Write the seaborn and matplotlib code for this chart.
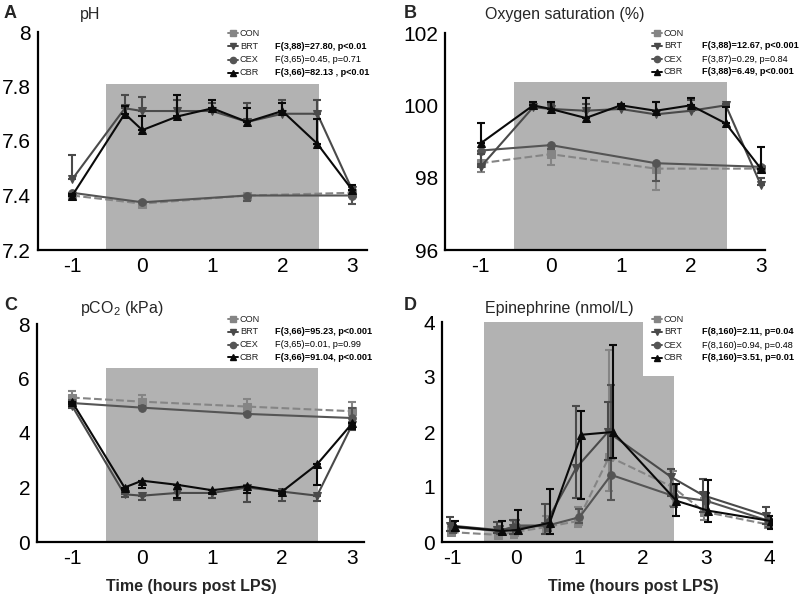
import numpy as np
import pandas as pd
import matplotlib
matplotlib.use("Agg")
import matplotlib.pyplot as plt
from matplotlib.lines import Line2D
import seaborn as sns

sns.set_theme(style="ticks")
plt.rcParams["font.family"] = ["Liberation Sans", "DejaVu Sans"]
plt.rcParams["mathtext.fontset"] = "custom"
plt.rcParams["mathtext.rm"] = "Liberation Sans"

# ---------------------------------------------------------
# Data
# ---------------------------------------------------------
t_long = [-1, -0.25, 0, 0.5, 1, 1.5, 2, 2.5, 3]
t_short = [-1, 0, 1.5, 3]
t_epi = [-1, -0.25, 0, 0.5, 1, 1.5, 2.5, 3, 4]

# pH
ph_con = [7.40, 7.37, 7.40, 7.41]
ph_con_up = [0, 0, 0, 0]
ph_con_dn = [0.005, 0.01, 0.015, 0.01]
ph_cex = [7.41, 7.375, 7.40, 7.40]
ph_cex_up = [0, 0, 0, 0]
ph_cex_dn = [0, 0, 0.02, 0.03]
ph_brt = [7.46, 7.72, 7.71, 7.71, 7.71, 7.67, 7.70, 7.70, 7.42]
ph_brt_up = [0.09, 0.05, 0.05, 0.04, 0.03, 0.07, 0.05, 0.05, 0.01]
ph_brt_dn = [0, 0, 0, 0, 0, 0, 0, 0, 0]
ph_cbr = [7.40, 7.70, 7.64, 7.69, 7.72, 7.67, 7.71, 7.59, 7.42]
ph_cbr_up = [0.005, 0.03, 0.05, 0.08, 0.03, 0.05, 0.03, 0.09, 0.02]
ph_cbr_dn = [0, 0, 0, 0, 0, 0, 0, 0, 0]

# Oxygen saturation
o2_con = [98.4, 98.65, 98.25, 98.25]
o2_con_up = [0, 0, 0, 0]
o2_con_dn = [0.25, 0.3, 0.6, 0.1]
o2_cex = [98.75, 98.9, 98.4, 98.3]
o2_cex_up = [0, 0, 0, 0]
o2_cex_dn = [0.4, 0.1, 0.5, 0.1]
o2_brt = [98.3, 99.95, 99.9, 99.85, 99.9, 99.75, 99.85, 100.0, 97.8]
o2_brt_up = [0.35, 0.1, 0.15, 0.2, 0.15, 0.35, 0.3, 0.05, 0.2]
o2_brt_dn = [0, 0, 0, 0, 0, 0, 0, 0, 0]
o2_cbr = [98.95, 100.0, 99.9, 99.65, 100.0, 99.85, 100.0, 99.5, 98.25]
o2_cbr_up = [0.55, 0.1, 0.2, 0.55, 0.05, 0.25, 0.2, 0.45, 0.6]
o2_cbr_dn = [0, 0, 0, 0, 0, 0, 0, 0, 0]

# pCO2
co2_con = [5.3, 5.15, 4.97, 4.8]
co2_con_up = [0.25, 0.25, 0.28, 0.32]
co2_con_dn = [0, 0, 0, 0]
co2_cex = [5.1, 4.93, 4.7, 4.55]
co2_cex_up = [0.1, 0.05, 0.05, 0.35]
co2_cex_dn = [0, 0, 0, 0]
co2_brt = [5.0, 1.75, 1.7, 1.8, 1.8, 2.0, 1.85, 1.7, 4.3]
co2_brt_up = [0, 0, 0, 0, 0, 0, 0, 0, 0]
co2_brt_dn = [0.1, 0.1, 0.15, 0.25, 0.2, 0.55, 0.35, 0.2, 0.2]
co2_cbr = [5.15, 2.0, 2.25, 2.1, 1.9, 2.05, 1.85, 2.85, 4.35]
co2_cbr_up = [0, 0, 0, 0, 0, 0, 0, 0, 0]
co2_cbr_dn = [0.1, 0.1, 0.25, 0.5, 0.1, 0.25, 0.1, 0.75, 0.2]

# Epinephrine
epi_con = [0.18, 0.13, 0.18, 0.27, 0.38, 1.55, 1.0, 0.55, 0.32]
epi_con_up = [0.1, 0.1, 0.2, 0.2, 0.25, 1.95, 0.3, 0.25, 0.1]
epi_con_dn = [0.05, 0.05, 0.1, 0.1, 0.1, 0.62, 0.35, 0.15, 0.05]
epi_brt = [0.3, 0.22, 0.25, 0.3, 1.35, 2.0, 1.18, 0.85, 0.48]
epi_brt_up = [0.15, 0.15, 0.15, 0.4, 1.12, 0.55, 0.15, 0.3, 0.15]
epi_brt_dn = [0.1, 0.05, 0.1, 0.15, 0.55, 0.5, 0.35, 0.3, 0.15]
epi_cex = [0.27, 0.2, 0.3, 0.3, 0.45, 1.22, 0.83, 0.75, 0.38]
epi_cex_up = [0.1, 0.1, 0.1, 0.1, 0.15, 1.63, 0.2, 0.15, 0.1]
epi_cex_dn = [0.1, 0.05, 0.1, 0.1, 0.1, 0.45, 0.2, 0.2, 0.1]
epi_cbr = [0.28, 0.2, 0.22, 0.35, 1.95, 2.0, 0.75, 0.57, 0.38]
epi_cbr_up = [0.1, 0.18, 0.36, 0.62, 0.43, 1.58, 0.3, 0.55, 0.1]
epi_cbr_dn = [0.08, 0.05, 0.08, 0.2, 1.17, 0.48, 0.27, 0.2, 0.15]

groups = ["CON", "BRT", "CEX", "CBR"]
stats_ph = ["", "F(3,88)=27.80, p<0.01", "F(3,65)=0.45, p=0.71", "F(3,66)=82.13 , p<0.01"]
stats_o2 = ["", "F(3,88)=12.67, p<0.001", "F(3,87)=0.29, p=0.84", "F(3,88)=6.49, p<0.001"]
stats_co2 = ["", "F(3,66)=95.23, p<0.001", "F(3,65)=0.01, p=0.99", "F(3,66)=91.04, p<0.001"]
stats_epi = ["", "F(8,160)=2.11, p=0.04", "F(8,160)=0.94, p=0.48", "F(8,160)=3.51, p=0.01"]
stats_bold = [False, True, False, True]

# ---------------------------------------------------------
# Styles
# ---------------------------------------------------------
style = {
    "CON": dict(color="#858585", marker="s", ls="--", z=2),
    "BRT": dict(color="#4a4a4a", marker="v", ls="-", z=3),
    "CEX": dict(color="#555555", marker="o", ls="-", z=3),
    "CBR": dict(color="#0a0a0a", marker="^", ls="-", z=4),
}
SHADE = "#b2b2b2"

W, H = 800, 595
fig = plt.figure(figsize=(8, 5.95), dpi=100)


def px(x, y):
    return x / W, 1 - y / H


def make_ax(l, t, r, b):
    x0, y1 = px(l, t)
    x1, y0 = px(r, b)
    return fig.add_axes([x0, y0, x1 - x0, y1 - y0])


def draw_series(ax, x, y, up, dn, g, shift=0.0):
    st = style[g]
    xs = np.asarray(x, dtype=float) + shift
    df = pd.DataFrame({"t": xs, "v": y})
    ax.errorbar(xs, y, yerr=[dn, up], fmt="none", ecolor=st["color"],
                elinewidth=1.5, capsize=3, capthick=1.5, zorder=st["z"])
    sns.lineplot(data=df, x="t", y="v", ax=ax, color=st["color"],
                 marker=st["marker"], markersize=5.5, markeredgecolor=st["color"],
                 linestyle=st["ls"], linewidth=1.5, zorder=st["z"], sort=False)


def style_ax(ax, xlim, ylim, yticks, yticklabels, xticks):
    ax.set_xlim(*xlim)
    ax.set_ylim(*ylim)
    ax.set_yticks(yticks)
    ax.set_yticklabels(yticklabels)
    ax.set_xticks(xticks)
    ax.set_xticklabels([str(v) for v in xticks])
    ax.set_xlabel("")
    ax.set_ylabel("")
    for s in ["top", "right"]:
        ax.spines[s].set_visible(False)
    for s in ["left", "bottom"]:
        ax.spines[s].set_linewidth(1.6)
        ax.spines[s].set_color("black")
    ax.tick_params(axis="both", length=0, labelsize=15, colors="black", pad=5)
    ax.patch.set_alpha(0)


def legend(x_h, x_lab, x_stat, y0, dy, stats):
    for i, g in enumerate(groups):
        st = style[g]
        y = y0 + i * dy
        xa, ya = px(x_h, y)
        xb, _ = px(x_h + 5, y)
        xc, _ = px(x_h + 10, y)
        fig.add_artist(Line2D([xa, xb, xc], [ya, ya, ya], transform=fig.transFigure,
                              color=st["color"], lw=1.4, marker=st["marker"],
                              markevery=[1], markersize=4.5))
        fig.text(*px(x_lab, y), g, fontsize=6.6, va="center", ha="left", color="#222222")
        if stats[i]:
            fig.text(*px(x_stat, y), stats[i], fontsize=6.6, va="center", ha="left",
                     fontweight="bold" if stats_bold[i] else "normal", color="black")


# ---------------------------------------------------------
# A: pH
# ---------------------------------------------------------
axA = make_ax(38, 32, 367, 250)
axA.axvspan(-0.52, 2.52, ymin=0, ymax=(7.81 - 7.2) / 0.8, color=SHADE, lw=0, zorder=0)
draw_series(axA, t_short, ph_con, ph_con_up, ph_con_dn, "CON")
draw_series(axA, t_short, ph_cex, ph_cex_up, ph_cex_dn, "CEX")
draw_series(axA, t_long, ph_brt, ph_brt_up, ph_brt_dn, "BRT")
draw_series(axA, t_long, ph_cbr, ph_cbr_up, ph_cbr_dn, "CBR")
style_ax(axA, (-1.49, 3.21), (7.2, 8.0), [7.2, 7.4, 7.6, 7.8, 8.0],
         ["7.2", "7.4", "7.6", "7.8", "8"], [-1, 0, 1, 2, 3])
fig.text(*px(4, 13), "A", fontsize=13, fontweight="bold", va="center")
fig.text(*px(80, 15), "pH", fontsize=11.5, va="center")
legend(228, 240, 275, 33, 13.3, stats_ph)

# ---------------------------------------------------------
# B: Oxygen saturation
# ---------------------------------------------------------
axB = make_ax(445, 33, 765, 250)
axB.axvspan(-0.53, 2.52, ymin=0, ymax=(100.65 - 96) / 6, color=SHADE, lw=0, zorder=0)
draw_series(axB, t_short, o2_con, o2_con_up, o2_con_dn, "CON")
draw_series(axB, t_short, o2_cex, o2_cex_up, o2_cex_dn, "CEX")
draw_series(axB, t_long, o2_brt, o2_brt_up, o2_brt_dn, "BRT")
draw_series(axB, t_long, o2_cbr, o2_cbr_up, o2_cbr_dn, "CBR")
style_ax(axB, (-1.51, 3.06), (96, 102), [96, 98, 100, 102],
         ["96", "98", "100", "102"], [-1, 0, 1, 2, 3])
fig.text(*px(404, 13), "B", fontsize=13, fontweight="bold", va="center")
fig.text(*px(485, 15), "Oxygen saturation (%)", fontsize=11.5, va="center")
legend(652, 664, 702, 33, 13, stats_o2)

# ---------------------------------------------------------
# C: pCO2
# ---------------------------------------------------------
axC = make_ax(37, 324, 364, 542)
axC.axvspan(-0.52, 2.52, ymin=0, ymax=6.37 / 8, color=SHADE, lw=0, zorder=0)
draw_series(axC, t_short, co2_con, co2_con_up, co2_con_dn, "CON")
draw_series(axC, t_short, co2_cex, co2_cex_up, co2_cex_dn, "CEX")
draw_series(axC, t_long, co2_brt, co2_brt_up, co2_brt_dn, "BRT")
draw_series(axC, t_long, co2_cbr, co2_cbr_up, co2_cbr_dn, "CBR")
style_ax(axC, (-1.5, 3.17), (0, 8), [0, 2, 4, 6, 8],
         ["0", "2", "4", "6", "8"], [-1, 0, 1, 2, 3])
fig.text(*px(4, 305), "C", fontsize=13, fontweight="bold", va="center")
fig.text(*px(80, 309), r"pCO$_\mathregular{2}$ (kPa)", fontsize=11.5, va="center")
fig.text(*px(191, 586), "Time (hours post LPS)", fontsize=11.5, fontweight="bold",
         va="center", ha="center")
legend(228, 240, 275, 319, 12.8, stats_co2)

# ---------------------------------------------------------
# D: Epinephrine
# ---------------------------------------------------------
axD = make_ax(442, 322, 772, 542)
axD.axvspan(-0.5, 2.0, ymin=0, ymax=1.0, color=SHADE, lw=0, zorder=0)
axD.axvspan(2.0, 2.5, ymin=0, ymax=3.02 / 4, color=SHADE, lw=0, zorder=0)
draw_series(axD, t_epi, epi_con, epi_con_up, epi_con_dn, "CON", shift=-0.03)
draw_series(axD, t_epi, epi_cex, epi_cex_up, epi_cex_dn, "CEX", shift=0.0)
draw_series(axD, t_epi, epi_brt, epi_brt_up, epi_brt_dn, "BRT", shift=-0.05)
draw_series(axD, t_epi, epi_cbr, epi_cbr_up, epi_cbr_dn, "CBR", shift=0.03)
style_ax(axD, (-1.17, 4.04), (0, 4), [0, 1, 2, 3, 4],
         ["0", "1", "2", "3", "4"], [-1, 0, 1, 2, 3, 4])
fig.text(*px(404, 305), "D", fontsize=13, fontweight="bold", va="center")
fig.text(*px(485, 309), "Epinephrine (nmol/L)", fontsize=11.5, va="center")
fig.text(*px(633, 586), "Time (hours post LPS)", fontsize=11.5, fontweight="bold",
         va="center", ha="center")
legend(652, 664, 702, 319, 13, stats_epi)

for ax in [axA, axB, axC, axD]:
    leg = ax.get_legend()
    if leg is not None:
        leg.remove()

fig.savefig("out.png", dpi=100)
